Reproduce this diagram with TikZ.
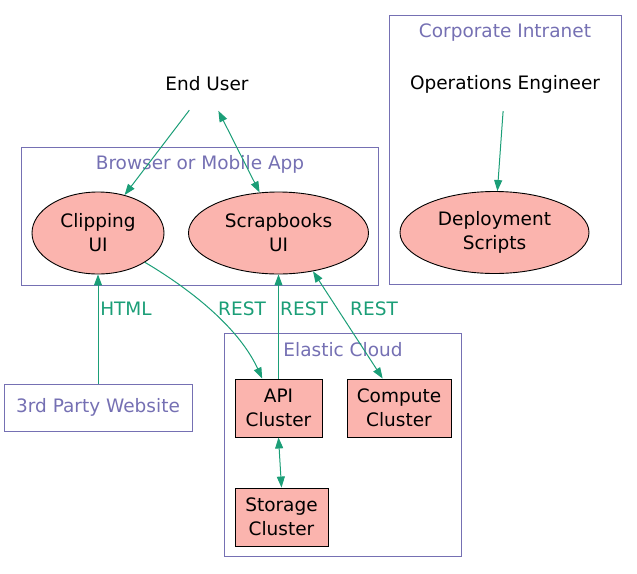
\documentclass[tikz,border=0pt]{standalone}
\usepackage{fontspec}
\setmainfont{DejaVu Sans}
\usetikzlibrary{arrows.meta,shapes.geometric}
\definecolor{edgegreen}{HTML}{1B9E77}
\definecolor{clpurple}{HTML}{7570B3}
\definecolor{nodefill}{HTML}{FBB4AE}
\tikzset{
  every node/.style={font=\fontsize{18.5}{24}\selectfont, align=center, inner sep=0pt},
  cluster/.style={draw=clpurple, line width=1pt},
  cllabel/.style={text=clpurple},
  uiell/.style={ellipse, draw=black, fill=nodefill, line width=0.9pt},
  clbox/.style={rectangle, draw=black, fill=nodefill, line width=0.9pt, minimum height=58pt},
  person/.style={ellipse, minimum width=130pt, minimum height=54pt},
  conn/.style={draw=edgegreen, line width=1pt, -{Triangle[length=11pt,width=8pt]}},
  biconn/.style={draw=edgegreen, line width=1pt, {Triangle[length=11pt,width=8pt]}-{Triangle[length=11pt,width=8pt]}},
  elabel/.style={text=edgegreen}
}
\begin{document}
\begin{tikzpicture}[x=1pt,y=-1pt]
\useasboundingbox (0,0) rectangle (637,573);
% clusters
\draw[cluster] (21,147) rectangle (378,285);
\node[cllabel] (lbrowser) at (200,164) {Browser or Mobile App};
\draw[cluster] (389,15) rectangle (621,284);
\node[cllabel] (lcorp) at (505,33) {Corporate Intranet};
\draw[cluster] (224,333) rectangle (461,556);
\node[cllabel] (lcloud) at (343,350) {Elastic Cloud};
% nodes
\node[person] (eu) at (207,84) {End User};
\node[person] (ops) at (505,84) {Operations Engineer};
\node[uiell, minimum width=132pt, minimum height=82pt] (clip) at (98,233) {Clipping\\UI};
\node[uiell, minimum width=180pt, minimum height=82pt] (scrap) at (278.5,233) {Scrapbooks\\UI};
\node[uiell, minimum width=189pt, minimum height=82pt] (deploy) at (494.5,232.5) {Deployment\\Scripts};
\node[rectangle, draw=clpurple, line width=1pt, minimum width=188pt, minimum height=47pt, text=clpurple] (web) at (98,407.5) {3rd Party Website};
\node[clbox, minimum width=87pt] (api) at (278.5,408) {API\\Cluster};
\node[clbox, minimum width=104pt] (compute) at (399,408) {Compute\\Cluster};
\node[clbox, minimum width=93pt] (storage) at (281.5,517) {Storage\\Cluster};
% connectors
\draw[conn] (eu.-124) -- (clip.55);
\draw[biconn] (eu.-67) -- (scrap.115);
\draw[conn] (ops.-94) -- (deploy.86);
\draw[conn] (web.north) -- (clip.south);
\draw[conn] (clip.-32) .. controls (195,292) and (240,330) .. (api.119);
\draw[conn] (api.north) -- (scrap.south);
\draw[biconn] (scrap.-48) -- (compute.119);
\draw[biconn] (api.south) -- (storage.north);
% edge labels
\node[elabel] (lhtml) at (126,309) {HTML};
\node[elabel] (lrest1) at (242,309) {REST};
\node[elabel] (lrest2) at (304,309) {REST};
\node[elabel] (lrest3) at (374,309) {REST};
\end{tikzpicture}
\end{document}
